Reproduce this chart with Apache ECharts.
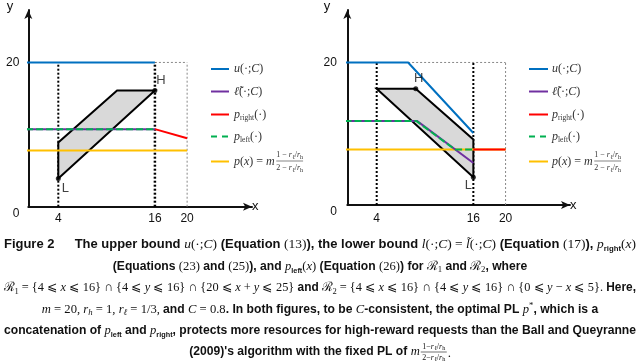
<!DOCTYPE html>
<html>
<head>
<meta charset="utf-8">
<title>Figure 2</title>
<script src="https://cdn.jsdelivr.net/npm/echarts@6.0.0/dist/echarts.min.js"></script>
<style>
  html, body { margin: 0; padding: 0; background: #fff; }
  #main { width: 640px; height: 363px; }
</style>
</head>
<body>
<div id="main"></div>
<script>
// ---- values ----
var xTickValues = [4, 16, 20];
var yTickValues = [0, 20];
var markNames = ['L', 'H'];

// left panel
var uLeft = [[0, 20], [16, 20]];
var ellLeft = [[0, 10.75], [16, 10.75]];
var pLeftLeft = [[0, 10.75], [16, 10.75]];
var pRightLeft = [[16, 10.75], [20, 9.5]];
var pFixedLeft = [[0, 7.8], [20, 7.8]];
var regionLeft = [[4, 3.9], [4, 8.9], [11.3, 16.1], [16, 16.1]];
var markLeft = [[4, 3.9], [16, 16.1]];
var guidesLeft = [[[4, 0], [4, 20]], [[16, 0], [16, 20]]];
var boxLeft = [[[20, 0], [20, 20]], [[16, 20], [20, 20]]];

// right panel
var uRight = [[0, 20], [7.9, 20], [16, 10.1]];
var ellRight = [[0, 11.8], [9, 11.8], [16, 5.9]];
var pLeftRight = [[0, 11.8], [8.9, 11.8], [13.7, 7.8], [16, 7.8]];
var pRightRight = [[16, 7.8], [20, 7.8]];
var pFixedRight = [[0, 7.8], [20, 7.8]];
var regionRight = [[4, 16.3], [8.85, 16.3], [16, 9.2], [16, 3.9]];
var markRight = [[16, 3.9], [8.85, 16.3]];
var guidesRight = [[[4, 0], [4, 20]], [[16, 0], [16, 20]]];
var boxRight = [[[20, 0], [20, 20]], [[7.9, 20], [20, 20]]];

// legend + caption text
var legendLabels = [
  '{m|u}(·;{m|C})',
  '{m|ℓ̃}(·;{m|C})',
  '{m|p}{s|right}(·)',
  '{m|p}{s|left}(·)',
  '{m|p}({m|x}) = {m|m}'
];
var legendFrac = ['1 − {m|r}{s|ℓ}/{m|r}{s|h}', '2 − {m|r}{s|ℓ}/{m|r}{s|h}'];

var captionLines = [
  '{b|Figure 2}      {b|The upper bound }{m|u}(·;{m|C}){b| (Equation }(13){b|), the lower bound }{m|l}(·;{m|C}) = {m|l̃}(·;{m|C}){b| (Equation }(17){b|), }{m|p}{sb|right}({m|x})',
  '{b|(Equations }(23){b| and }(25){b|), and }{m|p}{sb|left}({m|x}){b| (Equation }(26){b|) for }ℛ{sr|1}{b| and }ℛ{sr|2}{b|, where}',
  'ℛ{sr|1} = {4 ⩽ {m|x} ⩽ 16} ∩ {4 ⩽ {m|y} ⩽ 16} ∩ {20 ⩽ {m|x} + {m|y} ⩽ 25}{b| and }ℛ{sr|2} = {4 ⩽ {m|x} ⩽ 16} ∩ {4 ⩽ {m|y} ⩽ 16} ∩ {0 ⩽ {m|y} − {m|x} ⩽ 5}.{b| Here,}',
  '{m|m} = 20, {m|r}{sm|h} = 1, {m|r}{sm|ℓ} = 1/3, {b|and }{m|C} = 0.8{b|. In both figures, to be }{m|C}{b|-consistent, the optimal PL }{m|p}{sup|*}{b|, which is a}',
  '{b|concatenation of }{m|p}{sb|left}{b| and }{m|p}{sb|right}{b|, protects more resources for high-reward requests than the Ball and Queyranne}',
  '{b|(2009)\'s algorithm with the fixed PL of }{m|m}'
];
var captionFrac = ['1−{m|r}{s|ℓ}/{m|r}{s|h}', '2−{m|r}{s|ℓ}/{m|r}{s|h}'];

// ---- styling ----
var BLUE = '#0070C0', PURPLE = '#7030A0', RED = '#FF0000', GREEN = '#00B050', YELLOW = '#FFC000';
var INK = '#111';

var chart = echarts.init(document.getElementById('main'));

function lineSeries(g, data, color, width, dash, z) {
  return {
    type: 'line', xAxisIndex: g, yAxisIndex: g, data: data,
    symbol: 'none', silent: true, z: z,
    lineStyle: { color: color, width: width, type: dash || 'solid' }
  };
}

function segSeries(g, segs, color, width, dash, z) {
  return segs.map(function (s) { return lineSeries(g, s, color, width, dash, z); });
}

function regionSeries(g, pts) {
  return {
    type: 'custom', xAxisIndex: g, yAxisIndex: g, silent: true, z: 2,
    data: [pts[0]],
    renderItem: function (params, api) {
      return {
        type: 'polygon',
        shape: { points: pts.map(function (p) { return api.coord(p); }) },
        style: { fill: '#d9d9d9', stroke: '#000', lineWidth: 2 }
      };
    }
  };
}

function markSeries(g, pts, offsets) {
  return {
    type: 'scatter', xAxisIndex: g, yAxisIndex: g, silent: true, z: 6,
    symbol: 'circle', symbolSize: 5, itemStyle: { color: '#000' },
    data: pts.map(function (p, i) {
      return {
        value: p,
        label: {
          show: true, position: 'inside', offset: offsets[i], formatter: markNames[i],
          color: INK, fontSize: 13, fontFamily: 'Liberation Sans'
        }
      };
    })
  };
}

function panelSeries(g, d) {
  return [].concat(
    segSeries(g, d.box, '#888', 1, [2, 2], 1),
    [lineSeries(g, d.guides[0], '#000', 2, [2, 2], 1),
     lineSeries(g, d.guides[1], '#000', d.thick, [2, 2], 1)],
    [regionSeries(g, d.region)],
    [lineSeries(g, d.fixed, YELLOW, 2, null, 3),
     lineSeries(g, d.right, RED, 2, null, 3),
     lineSeries(g, d.u, BLUE, 2, null, 3),
     lineSeries(g, d.ell, PURPLE, 2, null, 3),
     lineSeries(g, d.pleft, GREEN, 2, [7, 3], 4)],
    [markSeries(g, d.marks, d.offsets)]
  );
}

function xAxisFor(g, min, max, margin, namePad) {
  return {
    gridIndex: g, type: 'value', min: min, max: max,
    name: 'x', nameLocation: 'end', nameGap: 0,
    nameTextStyle: { color: INK, fontSize: 13, fontFamily: 'Liberation Sans', padding: [namePad, 0, 0, 0] },
    axisLine: { show: true, onZero: false, symbol: ['none', 'arrow'], symbolSize: [6, 9], lineStyle: { color: INK, width: 2 } },
    axisTick: { show: false }, splitLine: { show: false },
    axisLabel: { customValues: xTickValues, margin: margin, color: INK, fontSize: 12, fontFamily: 'Liberation Sans' }
  };
}

function yAxisFor(g, max, margin, zeroPad, namePad) {
  return {
    gridIndex: g, type: 'value', min: 0, max: max,
    name: 'y', nameLocation: 'end', nameGap: -3,
    nameTextStyle: { color: INK, fontSize: 13, fontFamily: 'Liberation Sans', align: 'right', padding: [0, namePad, 0, 0] },
    axisLine: { show: true, onZero: false, symbol: ['none', 'arrow'], symbolSize: [6, 9], lineStyle: { color: INK, width: 2 } },
    axisTick: { show: false }, splitLine: { show: false },
    axisLabel: {
      customValues: yTickValues, margin: margin, color: INK, fontSize: 12, fontFamily: 'Liberation Sans',
      formatter: function (v) { return v === 0 ? '{o|0}' : String(v); },
      rich: { o: { padding: [zeroPad, 0, 0, 0], color: INK, fontSize: 12, fontFamily: 'Liberation Sans' } }
    }
  };
}

// ---- text helpers (legend + caption) ----
function measure(style) {
  try {
    return new echarts.graphic.Text({ style: style }).getBoundingRect().width;
  } catch (e) {
    return 0;
  }
}

var legRich = {
  m: { fontFamily: 'Liberation Serif', fontStyle: 'italic', fontSize: 12, fill: '#333' },
  s: { fontFamily: 'Liberation Serif', fontSize: 7.5, lineHeight: 8, fill: '#333', verticalAlign: 'bottom' }
};
var fracRich = {
  m: { fontFamily: 'Liberation Serif', fontStyle: 'italic', fontSize: 8, fill: '#333' },
  s: { fontFamily: 'Liberation Serif', fontSize: 6, lineHeight: 6, fill: '#333', verticalAlign: 'bottom' }
};

function legStyle(text, rich, size, align) {
  return { text: text, rich: rich, fontFamily: 'Liberation Serif', fontSize: size, fill: '#333',
    align: align || 'left', verticalAlign: 'middle', lineHeight: size + 3 };
}

var legendColors = [BLUE, PURPLE, RED, GREEN, YELLOW];
var legendRows = [69, 91.5, 114.5, 136.5, 161.5];

function legendElements(x0, x1, tx) {
  var els = [];
  legendRows.forEach(function (y, i) {
    els.push({
      type: 'line', silent: true, shape: { x1: x0, y1: y, x2: x1, y2: y },
      style: { stroke: legendColors[i], lineWidth: 2, lineDash: i === 3 ? [6, 5] : null }
    });
    els.push({ type: 'text', silent: true, x: tx, y: y, style: legStyle(legendLabels[i], legRich, 12) });
  });
  var last = legendRows[legendRows.length - 1];
  var w = measure(legStyle(legendLabels[4], legRich, 12));
  var fw = Math.max(measure(legStyle(legendFrac[0], fracRich, 8)), 24);
  var cx = tx + w + 1.5 + fw / 2;
  els.push({ type: 'text', silent: true, x: cx, y: last - 6.5, style: legStyle(legendFrac[0], fracRich, 8, 'center') });
  els.push({ type: 'text', silent: true, x: cx, y: last + 6.5, style: legStyle(legendFrac[1], fracRich, 8, 'center') });
  els.push({ type: 'line', silent: true, shape: { x1: cx - fw / 2, y1: last - 0.5, x2: cx + fw / 2, y2: last - 0.5 },
    style: { stroke: '#333', lineWidth: 0.6 } });
  return els;
}

var capRich = {
  b: { fontFamily: 'Liberation Sans', fontWeight: 'bold', fontSize: 12.5, fill: INK },
  m: { fontFamily: 'Liberation Serif', fontStyle: 'italic', fontSize: 13, fill: INK },
  sb: { fontFamily: 'Liberation Sans', fontWeight: 'bold', fontSize: 7.5, lineHeight: 9, fill: INK, verticalAlign: 'bottom' },
  sr: { fontFamily: 'Liberation Serif', fontSize: 9, lineHeight: 10, fill: INK, verticalAlign: 'bottom' },
  sm: { fontFamily: 'Liberation Serif', fontStyle: 'italic', fontSize: 9, lineHeight: 10, fill: INK, verticalAlign: 'bottom' },
  sup: { fontFamily: 'Liberation Serif', fontSize: 9, lineHeight: 10, fill: INK, verticalAlign: 'top' }
};
var capFracRich = {
  m: { fontFamily: 'Liberation Serif', fontStyle: 'italic', fontSize: 8, fill: INK },
  s: { fontFamily: 'Liberation Serif', fontSize: 6, lineHeight: 6, fill: INK, verticalAlign: 'bottom' }
};

function capStyle(text) {
  return { text: text, rich: capRich, fontFamily: 'Liberation Serif', fontSize: 13, fill: INK,
    align: 'left', verticalAlign: 'middle', lineHeight: 16 };
}

var captionRows = [245, 266.5, 288, 309.5, 331, 352];
var captionFull = [true, false, true, false, true, false];

function captionElements() {
  var els = [];
  var full = 632;
  var widths = captionLines.map(function (t) { return measure(capStyle(t)); });
  var base = widths[4] ? full / widths[4] : 0.8;
  captionLines.forEach(function (t, i) {
    var w = widths[i] || 400;
    var s = captionFull[i] ? full / w : base;
    var extra = 0, fw = 0;
    if (i === 5) {
      fw = Math.max(measure({ text: captionFrac[0], rich: capFracRich, fontFamily: 'Liberation Serif', fontSize: 8 }), 26);
      extra = fw + 5;
    }
    var left = captionFull[i] ? 4 : 320 - (w * s + extra) / 2;
    els.push({ type: 'text', silent: true, x: left, y: captionRows[i], scaleX: s, style: capStyle(t) });
    if (i === 5) {
      var cx = left + w * s + 1 + fw / 2, y = captionRows[i];
      [[captionFrac[0], y - 5], [captionFrac[1], y + 5.5]].forEach(function (f) {
        els.push({ type: 'text', silent: true, x: cx, y: f[1],
          style: { text: f[0], rich: capFracRich, fontFamily: 'Liberation Serif', fontSize: 8, fill: INK,
            align: 'center', verticalAlign: 'middle', lineHeight: 9 } });
      });
      els.push({ type: 'line', silent: true, shape: { x1: cx - fw / 2, y1: y, x2: cx + fw / 2, y2: y },
        style: { stroke: INK, lineWidth: 0.6 } });
      els.push({ type: 'text', silent: true, x: cx + fw / 2 + 1, y: y + 2, style: capStyle('.') });
    }
  });
  return els;
}

var left = {
  u: uLeft, ell: ellLeft, pleft: pLeftLeft, right: pRightLeft, fixed: pFixedLeft,
  region: regionLeft, marks: markLeft, offsets: [[7, 10], [6, -10]],
  guides: guidesLeft, box: boxLeft, thick: 2.5
};
var right = {
  u: uRight, ell: ellRight, pleft: pLeftRight, right: pRightRight, fixed: pFixedRight,
  region: regionRight, marks: markRight, offsets: [[-5, 8.5], [3, -10]],
  guides: guidesRight, box: boxRight, thick: 2
};

chart.setOption({
  backgroundColor: '#fff',
  animation: false,
  textStyle: { fontFamily: 'Liberation Sans' },
  grid: [
    { left: 28.3, top: 8, width: 223.7, height: 198.7 },
    { left: 347.3, top: 8, width: 222.7, height: 197 }
  ],
  xAxis: [xAxisFor(0, 0.273, 28.06, 6, 22), xAxisFor(1, 0.35, 28.0, 8, 26)],
  yAxis: [yAxisFor(0, 27.27, 9, 13, 15), yAxisFor(1, 27.36, 10.5, 13, 17)],
  series: [].concat(panelSeries(0, left), panelSeries(1, right)),
  graphic: [].concat(legendElements(211, 229, 234), legendElements(529, 548, 552), captionElements())
});
</script>
</body>
</html>
